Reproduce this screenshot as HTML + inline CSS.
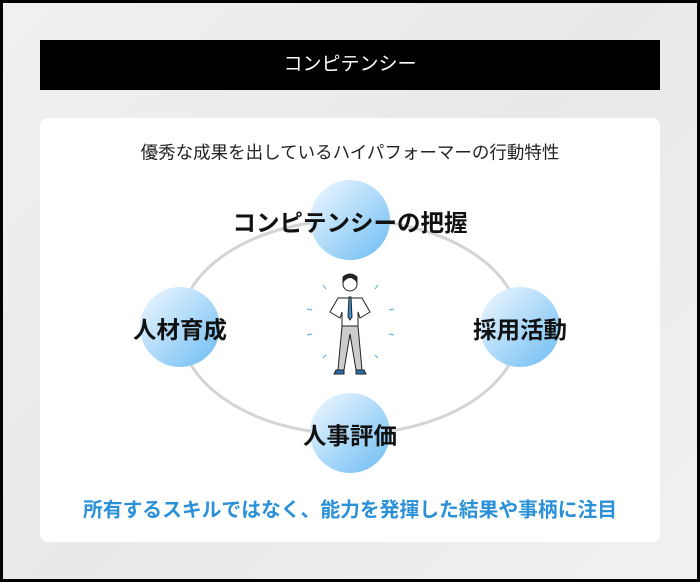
<!DOCTYPE html>
<html><head><meta charset="utf-8"><style>
*{margin:0;padding:0;box-sizing:border-box}
body{width:700px;height:582px;background:#000;font-family:"Liberation Sans","Noto Sans CJK JP",sans-serif;overflow:hidden}
.bg{position:absolute;left:3px;top:3px;width:694px;height:576px;background:linear-gradient(135deg,#f0f0f0,#e9e9e9 50%,#f1f1f1);}
.hdr{position:absolute;left:40px;top:40px;width:620px;height:50px;background:#000;color:#fff;font-size:19px;text-align:center;line-height:50px}
.card{position:absolute;left:40px;top:118px;width:620px;height:424px;background:#fff;border-radius:8px}
.t{position:absolute;white-space:nowrap;transform:translate(-50%,-50%)}
</style></head><body>
<div class="bg"></div>
<div class="hdr">コンピテンシー</div>
<div class="card"></div>
<svg style="position:absolute;left:0;top:0" width="700" height="582">
<defs><linearGradient id="g" x1="0" y1="0" x2="1" y2="1"><stop offset="0" stop-color="#f2f9ff"/><stop offset="1" stop-color="#6cbcf3"/></linearGradient></defs>
<ellipse cx="350" cy="327" rx="170" ry="107" fill="none" stroke="#d4d4d4" stroke-width="3"/>
<circle cx="350" cy="220" r="40" fill="url(#g)"/>
<circle cx="180" cy="327" r="40" fill="url(#g)"/>
<circle cx="520" cy="327" r="40" fill="url(#g)"/>
<circle cx="350" cy="433" r="40" fill="url(#g)"/>
<g stroke="#4aa8e0" stroke-width="1">
<line x1="323" y1="285" x2="326" y2="289"/><line x1="378" y1="285" x2="375" y2="289"/>
<line x1="307" y1="309" x2="312" y2="310"/><line x1="394" y1="309" x2="389" y2="310"/>
<line x1="307" y1="335" x2="312" y2="334"/><line x1="394" y1="335" x2="389" y2="334"/>
<line x1="323" y1="358" x2="326" y2="355"/><line x1="378" y1="358" x2="375" y2="355"/>
</g>
<g stroke="#222" stroke-width="1">
<circle cx="350" cy="284" r="7" fill="#fff"/>
<path d="M343 282 q7 -9 14 0 l0 -5 q-7 -6 -14 0z" fill="#222"/>
<path d="M338 298 h24 l8 14 -10 6 -2 -6 v14 h-16 v-14 l-2 6 -10 -6z" fill="#fff"/>
<path d="M349 297 h2 l1 20 -2 3 -2 -3z" fill="#3a8fd0"/>
<path d="M342 326 h16 l4 44 h-6 l-6 -36 -6 36 h-6z" fill="#ccc"/>
<path d="M336 370 h8 v4 h-10z M356 370 h8 l2 4 h-10z" fill="#2b6fb0"/>
</g>
</svg>
<div class="t" style="left:350px;top:152px;font-size:17.5px;color:#222">優秀な成果を出しているハイパフォーマーの行動特性</div>
<div class="t" style="left:350px;top:221px;font-size:23.5px;font-weight:bold;color:#111">コンピテンシーの把握</div>
<div class="t" style="left:180px;top:328px;font-size:23.5px;font-weight:bold;color:#111">人材育成</div>
<div class="t" style="left:520px;top:328px;font-size:23.5px;font-weight:bold;color:#111">採用活動</div>
<div class="t" style="left:350px;top:434px;font-size:23.5px;font-weight:bold;color:#111">人事評価</div>
<div class="t" style="left:350px;top:508px;font-size:19.8px;font-weight:bold;color:#2a90d8">所有するスキルではなく、能力を発揮した結果や事柄に注目</div>
</body></html>
